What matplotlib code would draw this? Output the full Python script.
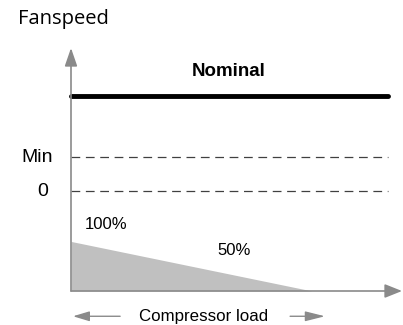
import numpy as np
import matplotlib
matplotlib.use("Agg")
import matplotlib.pyplot as plt

# Fan speed levels (axis units, 0 = x-axis, 1 = top of y-axis arrow)
level_names = ["Nominal", "Min", "0"]
level_values = [0.802, 0.551, 0.411]
line_end = 0.955

# Load reduction wedge: from 100% at left down to 50% load
wedge_x = [0.0, 0.726]
wedge_y = [0.204, 0.0]
wedge_labels = ["100%", "50%"]

fig = plt.figure(figsize=(4.03, 3.25), dpi=100)
ax = fig.add_axes([71 / 403, 34 / 325, 332 / 403, 243 / 325])
ax.set_xlim(0, 1)
ax.set_ylim(0, 1)
ax.axis("off")

gray = "#8a8a8a"
# axes with arrows
ax.annotate("", xy=(0.997, 0), xytext=(0, 0),
            arrowprops=dict(arrowstyle="-|>,head_length=1.05,head_width=0.42",
                            color=gray, lw=1.2, shrinkA=0, shrinkB=0),
            annotation_clip=False)
ax.annotate("", xy=(0, 1.0), xytext=(0, 0),
            arrowprops=dict(arrowstyle="-|>,head_length=1.1,head_width=0.38",
                            color=gray, lw=1.2, shrinkA=0, shrinkB=0),
            annotation_clip=False)

# wedge
ax.fill_between(wedge_x, wedge_y, 0, color="#c0c0c0", lw=0)

# nominal line
ax.plot([0, line_end], [level_values[0]] * 2, color="black", lw=3.5,
        solid_capstyle="round", clip_on=False)
for v in level_values[1:]:
    ax.plot([0, line_end], [v, v], color="#404040", lw=0.9,
            dashes=(7, 4.5), clip_on=False)

arial = "Liberation Sans"
ax.text(0.475, 0.905, level_names[0], fontsize=13.5, fontweight="bold",
        family=arial, ha="center", va="center")
ax.text(-0.055, level_values[1], level_names[1], fontsize=14, family=arial,
        ha="right", va="center", clip_on=False)
ax.text(-0.07, level_values[2], level_names[2], fontsize=14, family=arial,
        ha="right", va="center", clip_on=False)
ax.text(0.04, 0.275, wedge_labels[0], fontsize=12, family=arial,
        ha="left", va="center")
ax.text(0.44, 0.168, wedge_labels[1], fontsize=12, family=arial,
        ha="left", va="center")

fig.text(18 / 403, 1 - 19 / 325, "Fanspeed", fontsize=14.5, family="Open Sans",
         ha="left", va="center")

# compressor load label with arrows
ax.text(0.4, -0.104, "Compressor load", fontsize=12.2, family=arial,
        ha="center", va="center", clip_on=False)
ax.annotate("", xy=(0.006, -0.104), xytext=(0.148, -0.104),
            arrowprops=dict(arrowstyle="-|>,head_length=1.0,head_width=0.3",
                            color=gray, lw=1.0, shrinkA=0, shrinkB=0),
            annotation_clip=False)
ax.annotate("", xy=(0.765, -0.104), xytext=(0.66, -0.104),
            arrowprops=dict(arrowstyle="-|>,head_length=1.2,head_width=0.3",
                            color=gray, lw=1.0, shrinkA=0, shrinkB=0),
            annotation_clip=False)

fig.savefig("out.png", dpi=100)
